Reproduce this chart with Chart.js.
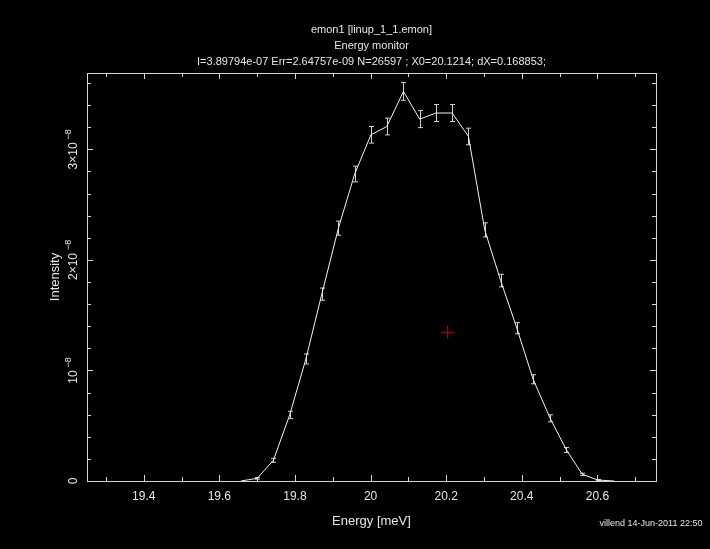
<!DOCTYPE html>
<html lang="en">
<head>
  <meta charset="UTF-8">
  <title>emon1 Energy monitor</title>
  <script src="https://cdn.jsdelivr.net/npm/chart.js"></script>
  <style>
    body { margin: 0; background: #000; }
    #wrap { width: 710px; height: 549px; }
  </style>
</head>
<body>
  <div id="wrap">
    <canvas id="emonChart" width="710" height="549"></canvas>
  </div>

  <script>
    // monitor data (intensity in counts, errors as +/-)
    const energy = [19.657, 19.700, 19.743, 19.786, 19.829, 19.871, 19.915, 19.958, 20.001,
                    20.043, 20.087, 20.130, 20.173, 20.216, 20.259, 20.302, 20.344, 20.387, 20.430,
                    20.475, 20.518, 20.560, 20.601, 20.644];
    const intensity = [0, 0.024e-8, 0.187e-8, 0.597e-8, 1.104e-8, 1.69e-8, 2.287e-8, 2.776e-8, 3.131e-8,
                       3.206e-8, 3.523e-8, 3.273e-8, 3.328e-8, 3.328e-8, 3.116e-8, 2.271e-8, 1.813e-8, 1.382e-8, 0.92e-8,
                       0.567e-8, 0.281e-8, 0.061e-8, 0.009e-8, 0];
    const errors = [0, 0.007e-8, 0.018e-8, 0.033e-8, 0.045e-8, 0.055e-8, 0.064e-8, 0.071e-8, 0.075e-8,
                    0.076e-8, 0.080e-8, 0.077e-8, 0.077e-8, 0.077e-8, 0.075e-8, 0.064e-8, 0.057e-8, 0.050e-8, 0.041e-8,
                    0.032e-8, 0.022e-8, 0.010e-8, 0.004e-8, 0];
    const cursor = [{ x: 20.204, y: 1.346e-8 }];

    const xTickValues = [19.3, 19.4, 19.5, 19.6, 19.7, 19.8, 19.9, 20, 20.1, 20.2, 20.3, 20.4, 20.5, 20.6, 20.7];
    const xLabelValues = [19.4, 19.6, 19.8, 20, 20.2, 20.4, 20.6];
    const yTickValues = [0, 0.2e-8, 0.4e-8, 0.6e-8, 0.8e-8, 1e-8, 1.2e-8, 1.4e-8, 1.6e-8, 1.8e-8, 2e-8,
                         2.2e-8, 2.4e-8, 2.6e-8, 2.8e-8, 3e-8, 3.2e-8, 3.4e-8, 3.6e-8];
    const yLabelValues = [0, 1e-8, 2e-8, 3e-8];
    const yLabelText = ['0', '10', '2\u00d710', '3\u00d710'];
    const yLabelExp = ['', '\u22128', '\u22128', '\u22128'];

    const titleLines = ['emon1 [linup_1_1.emon]', 'Energy monitor',
      'I=3.89794e-07 Err=2.64757e-09 N=26597 ; X0=20.1214; dX=0.168853;'];
    const footer = 'villend 14-Jun-2011 22:50';

    const FONT = "'Liberation Sans', Arial, sans-serif";
    const FG = '#e6e6e6';

    const isLabel = v => xLabelValues.some(l => Math.abs(l - v) < 1e-6);

    // frame, inward ticks, error bars and rotated y labels
    const decor = {
      id: 'decor',
      beforeDatasetsDraw(chart) {
        const { ctx, chartArea: a, scales: { x, y } } = chart;
        ctx.save();
        ctx.strokeStyle = '#d4d4d4';
        ctx.lineWidth = 1;
        ctx.strokeRect(a.left + 0.5, a.top + 0.5, a.right - a.left, a.bottom - a.top);
        ctx.beginPath();
        xTickValues.forEach(v => {
          const px = Math.round(x.getPixelForValue(v)) + 0.5;
          const len = isLabel(v) ? 6 : 4;
          ctx.moveTo(px, a.bottom); ctx.lineTo(px, a.bottom - len);
          ctx.moveTo(px, a.top); ctx.lineTo(px, a.top + len);
        });
        yTickValues.forEach(v => {
          const py = Math.round(y.getPixelForValue(v)) + 0.5;
          const len = yLabelValues.some(l => Math.abs(l - v) < 1e-12) ? 6 : 4;
          ctx.moveTo(a.left, py); ctx.lineTo(a.left + len, py);
          ctx.moveTo(a.right, py); ctx.lineTo(a.right - len, py);
        });
        ctx.stroke();

        // error bars
        ctx.strokeStyle = '#d0d0d0';
        ctx.beginPath();
        energy.forEach((e, i) => {
          if (!errors[i]) return;
          const px = Math.round(x.getPixelForValue(e)) + 0.5;
          const y1 = y.getPixelForValue(intensity[i] - errors[i]);
          const y2 = y.getPixelForValue(intensity[i] + errors[i]);
          ctx.moveTo(px, y1); ctx.lineTo(px, y2);
          ctx.moveTo(px - 2.5, y1); ctx.lineTo(px + 2.5, y1);
          ctx.moveTo(px - 2.5, y2); ctx.lineTo(px + 2.5, y2);
        });
        ctx.stroke();
        ctx.restore();
      },
      afterDraw(chart) {
        const { ctx, scales: { y } } = chart;
        ctx.save();
        ctx.fillStyle = FG;
        yLabelValues.forEach((v, i) => {
          const py = y.getPixelForValue(v);
          ctx.font = '12px ' + FONT;
          const w1 = ctx.measureText(yLabelText[i]).width;
          ctx.font = '9px ' + FONT;
          const w2 = yLabelExp[i] ? ctx.measureText(yLabelExp[i]).width + 3 : 0;
          ctx.save();
          ctx.translate(77, py);
          ctx.rotate(-Math.PI / 2);
          ctx.textBaseline = 'alphabetic';
          ctx.textAlign = 'left';
          const x0 = -(w1 + w2) / 2;
          ctx.font = '12px ' + FONT;
          ctx.fillText(yLabelText[i], x0, 0);
          if (yLabelExp[i]) {
            ctx.font = '9px ' + FONT;
            ctx.fillText(yLabelExp[i], x0 + w1 + 3, -6);
          }
          ctx.restore();
        });
        ctx.font = '9px ' + FONT;
        ctx.textAlign = 'center';
        ctx.textBaseline = 'middle';
        ctx.fillText(footer, 651, 524);
        ctx.restore();
      }
    };

    new Chart(document.getElementById('emonChart'), {
      data: {
        datasets: [
          {
            type: 'line',
            data: energy.map((e, i) => ({ x: e, y: intensity[i] })),
            borderColor: '#f2f2f2',
            borderWidth: 1,
            pointRadius: 0,
            tension: 0
          },
          {
            type: 'scatter',
            data: cursor,
            pointStyle: 'cross',
            pointRadius: 6.5,
            borderColor: '#d00000',
            borderWidth: 1
          }
        ]
      },
      options: {
        responsive: false,
        animation: false,
        events: [],
        layout: { padding: { left: 0, right: 54, top: 0, bottom: 0 } },
        plugins: {
          legend: { display: false },
          tooltip: { enabled: false },
          title: {
            display: true,
            fullSize: false,
            text: titleLines,
            color: FG,
            font: { family: FONT, size: 11, weight: 'normal', lineHeight: 16 / 11 },
            padding: { top: 22, bottom: 3 }
          }
        },
        scales: {
          x: {
            type: 'linear',
            position: 'bottom',
            min: 19.25,
            max: 20.755,
            afterBuildTicks: s => { s.ticks = xTickValues.map(v => ({ value: v })); },
            afterFit: s => { s.height = 68; },
            grid: { display: false },
            border: { display: false },
            ticks: {
              color: FG,
              padding: 0,
              autoSkip: false,
              maxRotation: 0,
              font: { family: FONT, size: 12 },
              callback: v => isLabel(v) ? String(Math.round(v * 10) / 10) : ''
            },
            title: {
              display: true,
              text: 'Energy [meV]',
              color: FG,
              font: { family: FONT, size: 13, lineHeight: 16 / 13 },
              padding: { top: 4, bottom: 20 }
            }
          },
          y: {
            type: 'linear',
            position: 'left',
            min: 0,
            max: 3.69e-8,
            afterBuildTicks: s => { s.ticks = yTickValues.map(v => ({ value: v })); },
            afterFit: s => { s.width = 87; },
            grid: { display: false },
            border: { display: false },
            ticks: { display: false },
            title: {
              display: true,
              text: 'Intensity',
              color: FG,
              font: { family: FONT, size: 13, lineHeight: 16 / 13 },
              padding: { top: 47, bottom: 0 }
            }
          }
        }
      },
      plugins: [decor]
    });
  </script>
</body>
</html>
